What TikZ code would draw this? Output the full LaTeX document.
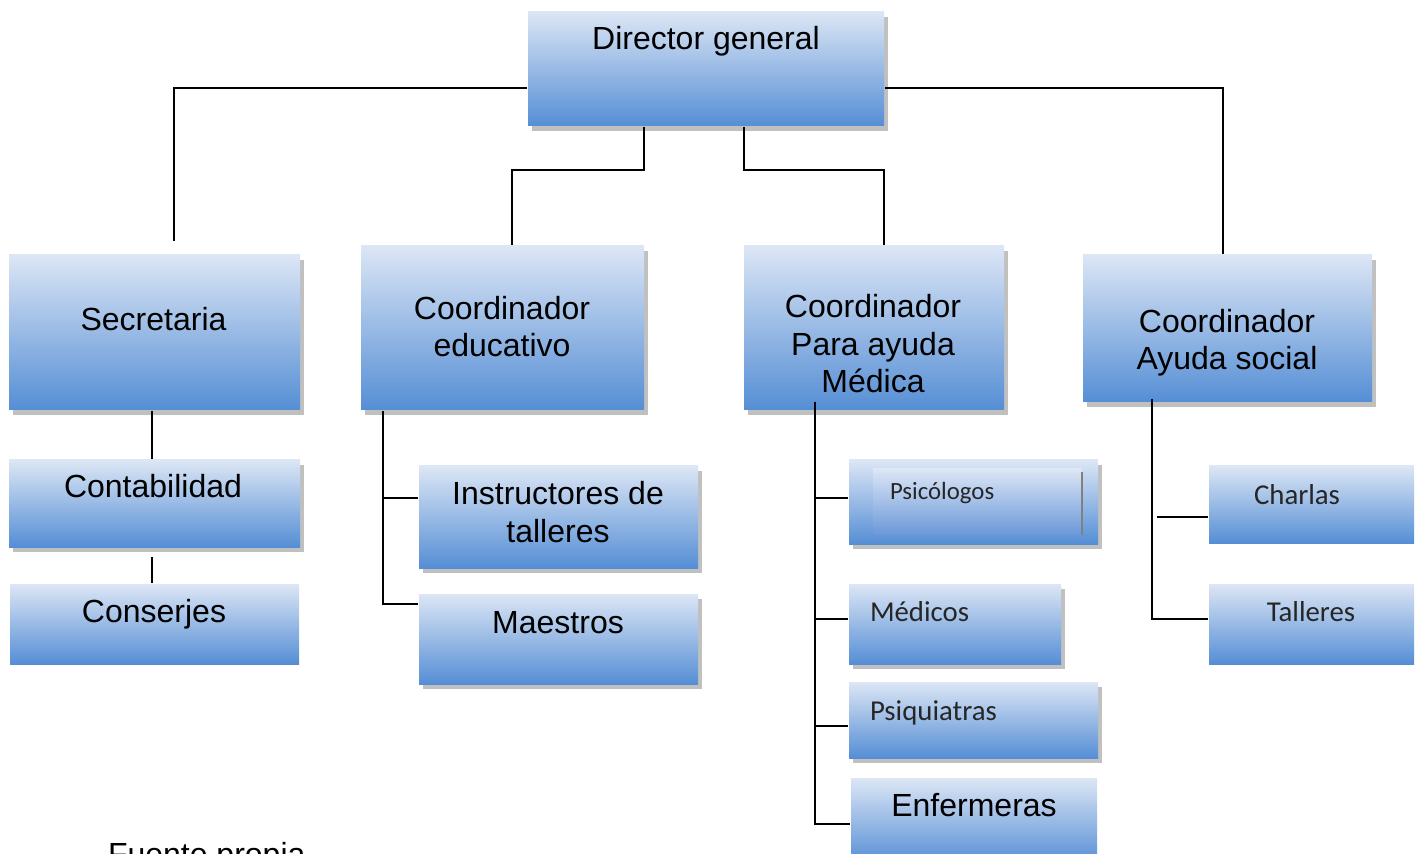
\documentclass[tikz,border=0pt]{standalone}
\usepackage{fontspec}
\setmainfont{Liberation Sans}
\newfontfamily\calibri{Carlito}
\usetikzlibrary{shadows}

\definecolor{boxtop}{RGB}{220,230,245}
\definecolor{boxbot}{RGB}{85,142,213}
\definecolor{boxbotin}{RGB}{108,153,218}
\definecolor{sombragris}{RGB}{192,192,192}

\begin{document}
\begin{tikzpicture}[x=0.5pt,y=-0.5pt,line width=1pt,
 caja/.style={rectangle,anchor=north west,inner sep=0,top color=boxtop,bottom color=boxbot,draw=none},
 sombra/.style={caja,drop shadow={shadow xshift=2pt,shadow yshift=-2.5pt,fill=sombragris,opacity=1}},
 txt/.style={font=\fontsize{16}{18.75}\selectfont,align=center,anchor=base,inner sep=0},
 cal/.style={font=\calibri\fontsize{14.4}{17}\selectfont,anchor=base west,inner sep=0,text=black!85}]
\useasboundingbox (0,0) rectangle (1416,854);
% boxes
\node[sombra,minimum width=178pt,minimum height=57pt] (dir) at (527,11) {};
\node[sombra,minimum width=145.5pt,minimum height=77.5pt] (sec) at (8,254) {};
\node[sombra,minimum width=141.5pt,minimum height=82pt] (edu) at (360,245) {};
\node[sombra,minimum width=130pt,minimum height=82pt] (med) at (743,245) {};
\node[sombra,minimum width=144.5pt,minimum height=73.5pt] (soc) at (1082,254) {};
\node[sombra,minimum width=145.5pt,minimum height=43.5pt] (cont) at (8,459) {};
\node[caja,minimum width=144.5pt,minimum height=40pt] (cons) at (9,583) {};
\node[sombra,minimum width=139.5pt,minimum height=51pt] (inst) at (418,465) {};
\node[sombra,minimum width=139.5pt,minimum height=45pt] (mae) at (418,593) {};
\node[sombra,minimum width=124.5pt,minimum height=42pt] (psi) at (848,459) {};
\node[caja,bottom color=boxbotin,minimum width=104.5pt,minimum height=32.5pt] (psi-in) at (872,468) {};
\draw[gray,line width=0.6pt] ([xshift=-0.5pt,yshift=-2pt]psi-in.north east) -- ([xshift=-0.5pt]psi-in.south east);
\node[sombra,minimum width=106pt,minimum height=40pt] (medc) at (848,583) {};
\node[sombra,minimum width=124.5pt,minimum height=38pt] (psq) at (848,681) {};
\node[caja,minimum width=123pt,minimum height=43pt] (enf) at (850,777) {};
\node[caja,minimum width=102.5pt,minimum height=38.5pt] (cha) at (1208,465) {};
\node[caja,minimum width=102.5pt,minimum height=40pt] (tal) at (1208,583) {};
% texts (multi-line ones sit on their last baseline)
\node[txt] (dir-t) at (706,50) {Director general};
\node[txt] (sec-t) at (153.5,331) {Secretaria};
\node[txt] (edu-t) at (502,357) {Coordinador\\educativo};
\node[txt] (med-t) at (873,393) {Coordinador\\Para ayuda\\Médica};
\node[txt] (soc-t) at (1227,370) {Coordinador\\Ayuda social};
\node[txt] (cont-t) at (153,498) {Contabilidad};
\node[txt] (cons-t) at (154,622) {Conserjes};
\node[txt] (inst-t) at (558,542) {Instructores de\\talleres};
\node[txt] (mae-t) at (558,633) {Maestros};
\node[txt] (enf-t) at (974,816) {Enfermeras};
\node[cal,font=\calibri\fontsize{12.4}{15}\selectfont] (psi-t) at (889,500) {Psicólogos};
\node[cal] (medc-t) at (869,621) {Médicos};
\node[cal] (psq-t) at (869,720) {Psiquiatras};
\node[cal,anchor=base] (cha-t) at (1297,504) {Charlas};
\node[cal,anchor=base] (tal-t) at (1311,621) {Talleres};
\node[txt,anchor=base west] (fuente) at (107,865) {Fuente propia};
% connectors
\draw ([yshift=-9.5pt]dir.west) -| ([xshift=9.75pt,yshift=6.5pt]sec.north);
\draw ([yshift=-9.5pt]dir.east) -| ([xshift=-2.25pt]soc.north);
\draw ([xshift=-31pt]dir.south) -- ++(0,43) -| ([xshift=4.75pt]edu.north);
\draw ([xshift=19pt]dir.south) -- ++(0,43) -| ([xshift=5pt]med.north);
\draw ([xshift=-1.25pt]sec.south) -- ([xshift=-1.25pt]cont.north);
\draw ([xshift=-1.25pt,yshift=-4.5pt]cont.south) -- ([xshift=-1.25pt]cons.north);
\draw ([xshift=11.5pt]edu.south west) |- ([yshift=17.5pt]mae.west);
\draw ([yshift=9.5pt]inst.west) -- ++(-35,0);
\draw ([xshift=36pt,yshift=4.5pt]med.south west) |- ([yshift=-1.5pt]enf.west);
\foreach \n/\s in {psi/2pt,medc/2.5pt,psq/-3pt}
  \draw ([yshift=\s]\n.west) -- ++(-33,0);
\draw ([xshift=35pt,yshift=2pt]soc.south west) |- ([yshift=2.5pt]tal.west);
\draw ([yshift=-6.25pt]cha.west) -- ++(-51,0);
\end{tikzpicture}
\end{document}
